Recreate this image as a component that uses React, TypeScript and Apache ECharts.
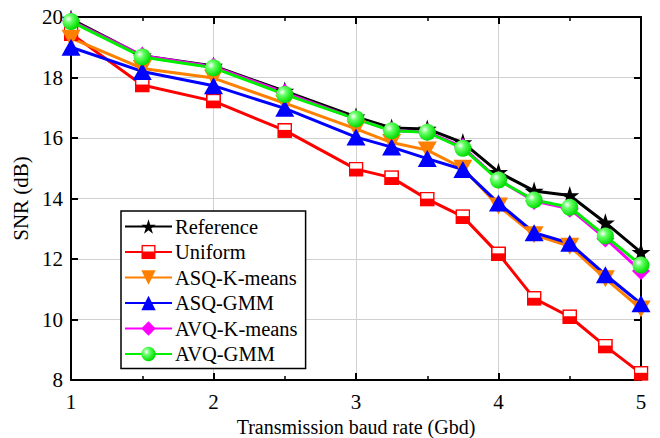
import React, { useEffect, useRef } from "react";
import * as echarts from "echarts";

const baudRates = [1, 1.5, 2, 2.5, 3, 3.25, 3.5, 3.75, 4, 4.25, 4.5, 4.75, 5];
const referenceSNR = [19.93, 18.72, 18.38, 17.55, 16.7, 16.33, 16.3, 15.85, 14.87, 14.25, 14.1, 13.2, 12.22];
const uniformSNR = [19.45, 17.75, 17.22, 16.25, 14.97, 14.69, 13.98, 13.4, 12.17, 10.7, 10.09, 9.12, 8.22];
const asqKmeansSNR = [19.3, 18.3, 17.98, 17.15, 16.3, 15.85, 15.6, 15.0, 13.75, 12.8, 12.42, 11.35, 10.35];
const asqGmmSNR = [19.0, 18.2, 17.73, 16.98, 16.03, 15.7, 15.32, 14.96, 13.85, 12.87, 12.52, 11.48, 10.52];
const avqKmeansSNR = [19.88, 18.72, 18.36, 17.5, 16.63, 16.25, 16.2, 15.7, 14.62, 13.92, 13.66, 12.68, 11.6];
const avqGmmSNR = [19.85, 18.68, 18.32, 17.44, 16.63, 16.24, 16.19, 15.66, 14.61, 13.95, 13.71, 12.76, 11.8];

const seriesNames = ["Reference", "Uniform", "ASQ-K-means", "ASQ-GMM", "AVQ-K-means", "AVQ-GMM"];

const FONT = "'Times New Roman', 'Liberation Serif', serif";

const starPath =
  "path://M50,0 L61.2,34.5 L97.6,34.5 L68.2,55.9 L79.4,90.5 L50,69.1 L20.6,90.5 L31.8,55.9 L2.4,34.5 L38.8,34.5 Z";
const downTriPath = "path://M0,0 L100,0 L50,86 Z";
const halfSquareSvg =
  "<svg xmlns='http://www.w3.org/2000/svg' width='28' height='28'><rect x='1.5' y='1.5' width='25' height='25' fill='white' stroke='#ff0000' stroke-width='3'/><rect x='1.5' y='13' width='25' height='13.5' fill='#ff0000'/></svg>";
const halfSquareImg = "image://data:image/svg+xml;charset=utf-8," + encodeURIComponent(halfSquareSvg);

function pairs(ys: number[]) {
  return baudRates.map((x, i) => [x, ys[i]]);
}

export default function App() {
  const ref = useRef<HTMLDivElement>(null);
  useEffect(() => {
    if (!ref.current) return;
    const chart = echarts.init(ref.current, null, { renderer: "svg" });
    const greenBall = new echarts.graphic.RadialGradient(0.35, 0.35, 0.65, [
      { offset: 0, color: "#ffffff" },
      { offset: 0.35, color: "#66ff66" },
      { offset: 1, color: "#00dd00" },
    ]);
    const lineSeries = (
      name: string,
      ys: number[],
      color: string,
      symbol: string,
      symbolSize: any,
      itemColor?: any
    ) => ({
      name,
      type: "line",
      data: pairs(ys),
      symbol,
      symbolSize,
      showAllSymbol: true,
      lineStyle: { color, width: 3 },
      itemStyle: { color: itemColor || color, borderWidth: 0 },
      emphasis: { disabled: true },
    });
    const axisCommon = {
      type: "value",
      axisLine: { show: true, onZero: false, lineStyle: { color: "#000", width: 2 } },
      axisTick: { show: true, inside: true, length: 7, lineStyle: { color: "#000", width: 2 } },
    };
    chart.setOption({
      animation: false,
      backgroundColor: "#fff",
      textStyle: { fontFamily: FONT },
      grid: { left: 71, right: 19, top: 17, bottom: 58, containLabel: false, outerBoundsMode: "none" },
      legend: {
        orient: "vertical",
        left: 121,
        top: 211,
        width: 190,
        itemWidth: 47,
        itemHeight: 18,
        itemGap: 4.5,
        padding: [5, 8, 4, 3],
        borderColor: "#000",
        borderWidth: 1.5,
        backgroundColor: "#fff",
        textStyle: { fontFamily: FONT, fontSize: 20.5, color: "#000", padding: [0, 0, 0, -2] },
        data: seriesNames,
      },
      xAxis: [
        {
          ...axisCommon,
          min: 1,
          max: 5,
          interval: 1,
          name: "Transmission baud rate (Gbd)",
          nameLocation: "middle",
          nameGap: 36,
          nameTextStyle: { fontFamily: FONT, fontSize: 20, color: "#000" },
          axisLabel: { fontFamily: FONT, fontSize: 21, color: "#000", margin: 11 },
          minorTick: { show: true, splitNumber: 2, length: 4, lineStyle: { color: "#000", width: 1.5 } },
          splitLine: { show: true, lineStyle: { color: "#d0d0d0", width: 1 } },
        },
        {
          ...axisCommon,
          position: "top",
          min: 1,
          max: 5,
          interval: 1,
          axisLabel: { show: false },
          minorTick: { show: true, splitNumber: 2, length: 4, lineStyle: { color: "#000", width: 1.5 } },
          splitLine: { show: false },
        },
      ],
      yAxis: [
        {
          ...axisCommon,
          min: 8,
          max: 20,
          interval: 2,
          name: "SNR (dB)",
          nameLocation: "middle",
          nameGap: 36,
          nameTextStyle: { fontFamily: FONT, fontSize: 21, color: "#000" },
          axisLabel: { fontFamily: FONT, fontSize: 21, color: "#000", margin: 8 },
          splitLine: { show: true, lineStyle: { color: "#d0d0d0", width: 1 } },
        },
        {
          ...axisCommon,
          position: "right",
          min: 8,
          max: 20,
          interval: 2,
          axisLabel: { show: false },
          splitLine: { show: false },
        },
      ],
      series: [
        lineSeries("Reference", referenceSNR, "#000000", starPath, 19),
        lineSeries("Uniform", uniformSNR, "#ff0000", halfSquareImg, 15),
        lineSeries("ASQ-K-means", asqKmeansSNR, "#ff8000", downTriPath, [19, 17]),
        lineSeries("ASQ-GMM", asqGmmSNR, "#0000ff", "triangle", [19, 17]),
        lineSeries("AVQ-K-means", avqKmeansSNR, "#ff00ff", "diamond", [18, 18]),
        lineSeries("AVQ-GMM", avqGmmSNR, "#00ee00", "circle", 17, greenBall),
      ],
    });
    return () => chart.dispose();
  }, []);
  return <div ref={ref} style={{ width: 660, height: 438, position: "absolute", left: 0, top: 0 }} />;
}
